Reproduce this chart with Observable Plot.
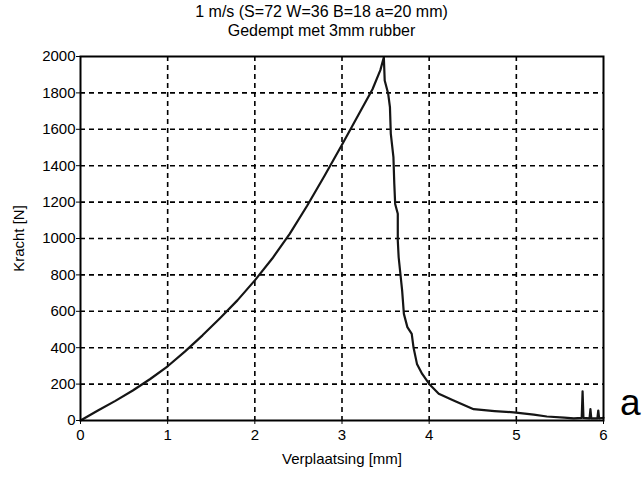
<!DOCTYPE html>
<html>
<head>
<meta charset="utf-8">
<script src="https://cdn.jsdelivr.net/npm/d3@7"></script>
<script src="https://cdn.jsdelivr.net/npm/@observablehq/plot@0.6"></script>
<style>
  html, body { margin: 0; padding: 0; background: #fff; }
  #page { position: relative; width: 643px; height: 477px; font-family: "Liberation Sans", Arial, Helvetica, sans-serif; color: #000; }
  #title { height: 40px; box-sizing: border-box; padding-top: 3px; text-align: center; font-size: 16px; white-space: nowrap; }
  #title div { height: 18.5px; line-height: 18.5px; }
  #tag { position: absolute; left: 620px; top: 384px; font-size: 37px; line-height: 1; }
  svg { display: block; }
</style>
</head>
<body>
<div id="page">
  <div id="title">
    <div>1 m/s (S=72 W=36 B=18 a=20 mm)</div>
    <div>Gedempt met 3mm rubber</div>
  </div>
  <div id="chart"></div>
  <div id="tag">a</div>
</div>
<script>
// Force–displacement record of the impact test
const displacement = [
  0, 0.2, 0.4, 0.6, 0.8, 1.0, 1.2, 1.4, 1.6, 1.8, 2.0, 2.2, 2.4, 2.6, 2.8,
  3.0, 3.2, 3.35, 3.44, 3.48,
  3.49, 3.53, 3.55, 3.56, 3.59, 3.60, 3.61, 3.63, 3.64, 3.64, 3.65, 3.69, 3.71, 3.75, 3.80,
  3.82, 3.86, 3.92, 4.00, 4.11, 4.28, 4.51, 4.75, 4.97, 5.20, 5.35, 5.55, 5.66,
  5.75, 5.76, 5.77, 5.84, 5.85, 5.86, 5.93, 5.94, 5.95, 6.0
];
const force = [
  0, 55, 108, 165, 228, 298, 380, 468, 562, 660, 770, 890, 1025, 1180, 1345,
  1515, 1690, 1820, 1925, 1996,
  1868, 1795, 1722, 1575, 1447, 1300, 1190, 1154, 1136, 989, 897, 714, 586, 513, 476,
  403, 311, 256, 201, 147, 110, 62, 52, 45, 32, 22, 16, 12,
  14, 160, 14, 12, 62, 12, 12, 55, 12, 15
];
const xTicks = [0, 1, 2, 3, 4, 5, 6];
const yTicks = d3.range(0, 2001, 200);
const xGrid = [1, 2, 3, 4, 5];
const yGrid = d3.range(200, 1801, 200);

const records = displacement.map((d, i) => ({d, f: force[i]}));

const dash = {stroke: "#000", strokeWidth: 1.6, strokeDasharray: "5,4"};

const chart = Plot.plot({
  width: 643,
  height: 437,
  marginTop: 16,
  marginBottom: 57,
  marginLeft: 80,
  marginRight: 40,
  style: {fontFamily: "'Liberation Sans', Arial, Helvetica, sans-serif", fontSize: "15px", color: "#000", background: "#fff"},
  x: {domain: [0, 6]},
  y: {domain: [0, 2000]},
  marks: [
    Plot.ruleX(xGrid, dash),
    Plot.ruleY(yGrid, dash),
    Plot.line(records, {x: "d", y: "f", stroke: "#151515", strokeWidth: 2.2, strokeLinejoin: "round"}),
    Plot.frame({stroke: "#000", strokeWidth: 2}),
    Plot.axisX({ticks: xTicks, tickFormat: "d", tickSize: 4, tickPadding: 5, label: "Verplaatsing [mm]", labelAnchor: "center", labelOffset: 43, labelArrow: "none"}),
    Plot.axisY({ticks: yTicks, tickFormat: "d", tickSize: 4, tickPadding: 1, label: "Kracht [N]", labelAnchor: "center", labelOffset: 67, labelArrow: "none"})
  ]
});
document.getElementById("chart").appendChild(chart);
</script>
</body>
</html>
